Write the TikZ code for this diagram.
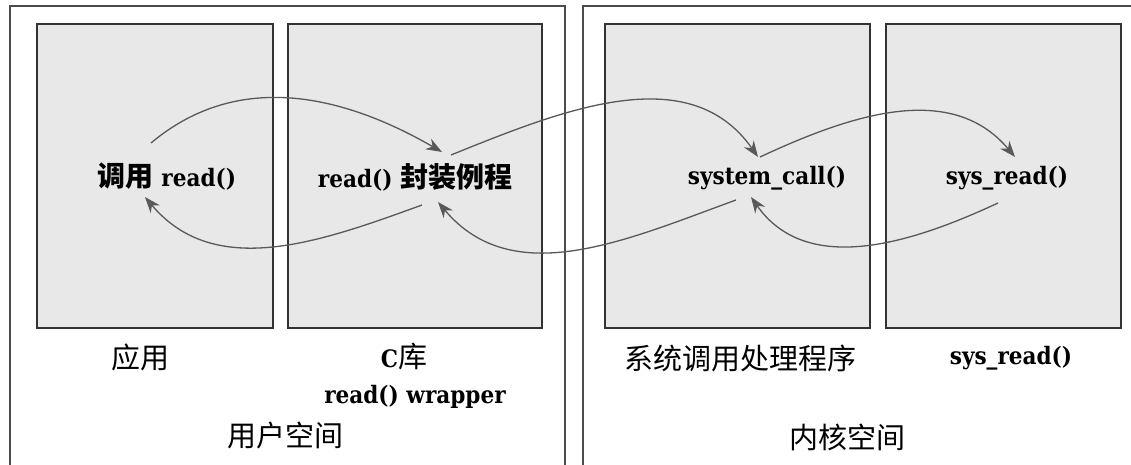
\documentclass[tikz,border=0pt]{standalone}
\usepackage{fontspec}
\setmainfont{DejaVu Serif Condensed}
\newfontfamily\cjk{Noto Sans CJK SC}
\usetikzlibrary{arrows.meta, positioning}
\newcommand{\zh}[1]{{\cjk\fontsize{28}{32}\selectfont #1}}
\newcommand{\zhs}[1]{{\cjk\mdseries\fontsize{29}{32}\selectfont #1}}
\tikzstyle{area} = [draw=black!70, line width=1.2pt]
\tikzstyle{block} = [rectangle, draw=black!80, line width=1.8pt, fill=black!9, minimum height=304pt]
\tikzstyle{func} = [inner sep=0pt, font=\fontsize{24}{28}\selectfont\bfseries]
\tikzstyle{desc} = [inner sep=0pt, font=\fontsize{24}{28}\selectfont\bfseries]
\tikzstyle{flow} = [line width=1.3pt, draw=black!65, -{Stealth[length=16pt,width=12pt]}]

\begin{document}
\begin{tikzpicture}[x=1pt, y=1pt]
	\useasboundingbox (0,0) rectangle (1131,465);
	\clip (0,0) rectangle (1131,465);
	% user space / kernel space
	\draw [area] (10,459) rectangle (565,-20);
	\draw [area] (583,459) rectangle (1150,-20);
	% grey boxes
	\node (app) [block, minimum width=236pt] at (155,289) {};
	\node (clib) [block, minimum width=254pt] at (415,289) {};
	\node (handler) [block, minimum width=265pt] at (737.5,289) {};
	\node (kread) [block, minimum width=235pt] at (1003.5,289) {};
	% functions
	\node (call) [func] at (167,288) {\zh{调用} read()};
	\node (wrap) [func] at (415,288) {read() \zh{封装例程}};
	\node (sc) [func] at (767,287) {system\_call()};
	\node (sr) [func] at (1007,287) {sys\_read()};
	% captions
	\node (applbl) [desc] at (140,108) {\zhs{应用}};
	\node (cliblbl) [desc] at (404,108) {C\zhs{库}};
	\node (wraplbl) [desc] at (415,68) {read() wrapper};
	\node (user) [desc] at (285,30) {\zhs{用户空间}};
	\node (sclbl) [desc] at (740,107) {\zhs{系统调用处理程序}};
	\node (srlbl) [desc] at (1011,107) {sys\_read()};
	\node (kernel) [desc] at (847,28) {\zhs{内核空间}};
	% calls
	\draw [flow] ([shift={(-16,34)}]call.center) to[out=40,in=150] ([shift={(27,25)}]wrap.center);
	\draw [flow] ([shift={(36,22)}]wrap.center) to[out=22,in=125] ([shift={(-9,21)}]sc.center);
	\draw [flow] ([shift={(-7,21)}]sc.center) to[out=25,in=130] ([shift={(8,21)}]sr.center);
	% returns
	\draw [flow] ([shift={(-9,-25)}]sr.center) to[out=205,in=-55] ([shift={(-16,-19)}]sc.center);
	\draw [flow] ([shift={(-31,-22)}]sc.center) to[out=200,in=-50] ([shift={(23,-25)}]wrap.center);
	\draw [flow] ([shift={(7,-28)}]wrap.center) to[out=200,in=-50] ([shift={(-22,-20)}]call.center);
\end{tikzpicture}
\end{document}
